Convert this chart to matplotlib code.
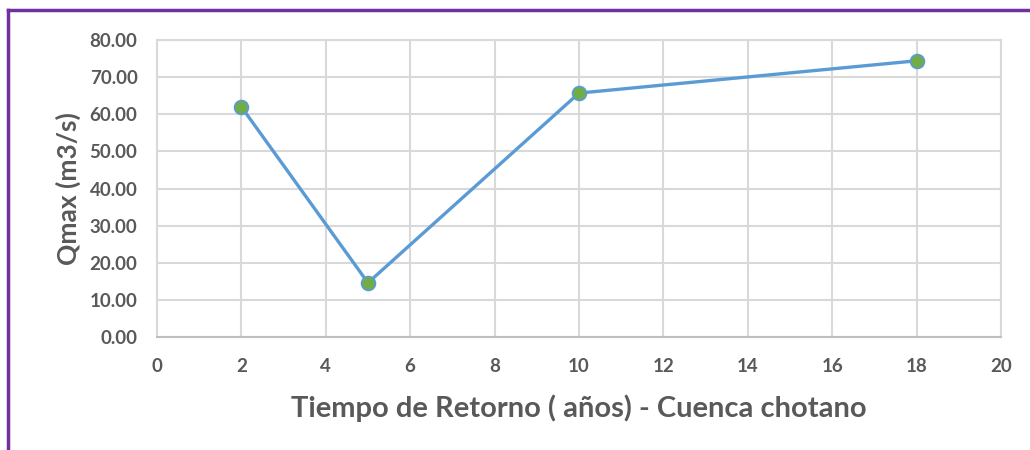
import matplotlib
matplotlib.use('Agg')
import matplotlib.pyplot as plt
from matplotlib.lines import Line2D

tiempo = [2, 5, 10, 18]
qmax = [62.0, 14.6, 65.7, 74.4]

plt.rcParams['font.family'] = ['Lato', 'DejaVu Sans']

fig = plt.figure(figsize=(10.3, 4.5), dpi=100)
ax = fig.add_axes([0.1524, 0.2511, 0.8194, 0.66])

ax.plot(tiempo, qmax, color='#5b9bd5', linewidth=2.4, marker='o',
        markersize=10, markerfacecolor='#70ad47', markeredgecolor='#5b9bd5',
        markeredgewidth=1.2, zorder=3)

ax.set_xlim(0, 20)
ax.set_ylim(0, 80)
ax.set_xticks(range(0, 21, 2))
ax.set_yticks(range(0, 81, 10))
ax.set_yticklabels([f'{v:.2f}' for v in range(0, 81, 10)])
ax.grid(True, color='#d9d9d9', linewidth=1.5)
ax.set_axisbelow(True)
for s in ax.spines.values():
    s.set_color('#d9d9d9')
    s.set_linewidth(1.5)
ax.spines['bottom'].set_color('#bfbfbf')
ax.tick_params(length=0, labelsize=13.5, labelcolor='#595959')
ax.tick_params(axis='y', pad=14)
ax.tick_params(axis='x', pad=15)
for lab in ax.get_xticklabels() + ax.get_yticklabels():
    lab.set_fontweight('bold')

ax.set_xlabel('Tiempo de Retorno ( años) - Cuenca chotano', fontsize=21,
              fontweight='bold', color='#595959', labelpad=14)
ax.set_ylabel('Qmax (m3/s)', fontsize=19, fontweight='bold', color='#595959',
              labelpad=6)

# purple frame (top and left edges visible)
fig.add_artist(Line2D([0.008, 1.0], [0.977, 0.977], color='#7030a0', linewidth=2.5))
fig.add_artist(Line2D([0.008, 0.008], [0.0, 0.977], color='#7030a0', linewidth=2.5))

fig.savefig('out.png', dpi=100)
